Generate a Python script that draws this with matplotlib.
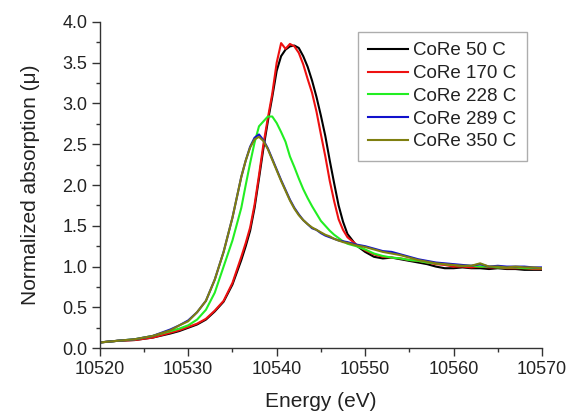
import matplotlib
matplotlib.use("Agg")
import matplotlib.pyplot as plt
from matplotlib.ticker import MultipleLocator, FormatStrFormatter

plt.rcParams['font.family'] = ['Liberation Sans', 'DejaVu Sans']

energy = [10520, 10522, 10524, 10526, 10528, 10529, 10530, 10531, 10532, 10533,
          10534, 10535, 10536, 10536.5, 10537, 10537.5, 10538, 10538.5, 10539, 10539.5,
          10540, 10540.5, 10541, 10541.5, 10542, 10542.5, 10543, 10543.5, 10544, 10544.5,
          10545, 10545.5, 10546, 10546.5, 10547, 10547.5, 10548, 10549, 10550, 10551,
          10552, 10553, 10554, 10555, 10556, 10557, 10558, 10559, 10560, 10561,
          10562, 10563, 10564, 10565, 10566, 10567, 10568, 10569, 10570]

core_50 = [0.07, 0.09, 0.10, 0.13, 0.18, 0.21, 0.25, 0.29, 0.35, 0.45,
           0.57, 0.78, 1.08, 1.25, 1.44, 1.72, 2.08, 2.45, 2.78, 3.08,
           3.40, 3.58, 3.66, 3.70, 3.71, 3.68, 3.58, 3.45, 3.28, 3.08,
           2.85, 2.60, 2.30, 2.02, 1.75, 1.55, 1.40, 1.26, 1.18, 1.12,
           1.10, 1.11, 1.09, 1.07, 1.05, 1.03, 1.00, 0.98, 0.98, 0.99,
           0.98, 0.98, 0.97, 0.98, 0.97, 0.97, 0.96, 0.96, 0.96]

core_170 = [0.07, 0.09, 0.10, 0.13, 0.19, 0.22, 0.26, 0.30, 0.36, 0.46,
            0.58, 0.80, 1.12, 1.29, 1.48, 1.76, 2.12, 2.50, 2.82, 3.12,
            3.50, 3.74, 3.67, 3.73, 3.70, 3.62, 3.48, 3.30, 3.13, 2.90,
            2.62, 2.35, 2.05, 1.80, 1.58, 1.45, 1.36, 1.27, 1.20, 1.15,
            1.12, 1.11, 1.10, 1.08, 1.07, 1.05, 1.03, 1.02, 1.00, 1.00,
            0.99, 1.00, 0.99, 0.99, 0.98, 0.98, 0.98, 0.97, 0.97]

core_228 = [0.07, 0.09, 0.11, 0.15, 0.21, 0.24, 0.28, 0.35, 0.47, 0.68,
            1.00, 1.32, 1.72, 2.00, 2.27, 2.52, 2.72, 2.78, 2.84, 2.84,
            2.76, 2.65, 2.53, 2.35, 2.22, 2.08, 1.95, 1.84, 1.74, 1.65,
            1.56, 1.50, 1.44, 1.39, 1.35, 1.31, 1.28, 1.25, 1.21, 1.16,
            1.13, 1.11, 1.10, 1.08, 1.07, 1.05, 1.04, 1.03, 1.02, 1.01,
            1.01, 1.00, 1.00, 0.99, 0.99, 0.99, 0.98, 0.98, 0.98]

core_289 = [0.07, 0.09, 0.11, 0.15, 0.23, 0.28, 0.34, 0.44, 0.58, 0.84,
            1.18, 1.60, 2.10, 2.30, 2.47, 2.58, 2.62, 2.55, 2.45, 2.32,
            2.19, 2.06, 1.94, 1.82, 1.72, 1.64, 1.57, 1.52, 1.47, 1.45,
            1.41, 1.38, 1.36, 1.34, 1.32, 1.31, 1.30, 1.27, 1.25, 1.22,
            1.19, 1.18, 1.15, 1.12, 1.09, 1.07, 1.05, 1.04, 1.03, 1.02,
            1.01, 1.03, 1.00, 1.01, 1.00, 1.00, 1.00, 0.99, 0.99]

core_350 = [0.07, 0.09, 0.11, 0.15, 0.22, 0.28, 0.33, 0.44, 0.58, 0.84,
            1.18, 1.60, 2.10, 2.30, 2.46, 2.56, 2.59, 2.54, 2.44, 2.31,
            2.18, 2.05, 1.93, 1.81, 1.71, 1.63, 1.57, 1.52, 1.48, 1.45,
            1.42, 1.39, 1.37, 1.34, 1.32, 1.30, 1.29, 1.26, 1.24, 1.21,
            1.18, 1.16, 1.14, 1.11, 1.08, 1.06, 1.04, 1.03, 1.02, 1.01,
            1.01, 1.04, 1.00, 1.00, 0.99, 1.00, 0.99, 0.99, 0.98]

labels = ["CoRe 50 C", "CoRe 170 C", "CoRe 228 C", "CoRe 289 C", "CoRe 350 C"]
colors = ["#000000", "#ee1111", "#22ee22", "#1111cc", "#7f7f10"]
series = [core_50, core_170, core_228, core_289, core_350]

fig = plt.figure(figsize=(5.7, 4.13), dpi=100)
ax = fig.add_axes([0.175, 0.157, 0.776, 0.79])

for vals, lab, col in zip(series, labels, colors):
    ax.plot(energy, vals, color=col, lw=1.5, label=lab)

ax.set_xlim(10520, 10570)
ax.set_ylim(0.0, 4.0)
ax.xaxis.set_major_locator(MultipleLocator(10))
ax.xaxis.set_minor_locator(MultipleLocator(5))
ax.yaxis.set_major_locator(MultipleLocator(0.5))
ax.yaxis.set_minor_locator(MultipleLocator(0.25))
ax.yaxis.set_major_formatter(FormatStrFormatter('%.1f'))

for s in ['top', 'right']:
    ax.spines[s].set_visible(False)
for s in ['left', 'bottom']:
    ax.spines[s].set_color('#333333')
    ax.spines[s].set_linewidth(1.0)

ax.tick_params(which='major', direction='out', length=6, width=1, color='#333333',
               labelsize=13, labelcolor='#222222', pad=3)
ax.tick_params(which='minor', direction='out', length=3, width=1, color='#333333')

ax.set_xlabel("Energy (eV)", fontsize=15, color='#222222', labelpad=10)
ax.set_ylabel("Normalized absorption (\u03bc)", fontsize=15, color='#222222', labelpad=16)

leg = ax.legend(loc='upper right', bbox_to_anchor=(0.966, 0.969), fontsize=13.5,
                frameon=True, fancybox=False, edgecolor='#999999', handlelength=2.1,
                labelspacing=0.3, borderpad=0.55, handletextpad=0.3, borderaxespad=0)
leg.get_frame().set_linewidth(1.0)
for t in leg.get_texts():
    t.set_color('#222222')

fig.savefig("out.png", dpi=100)
